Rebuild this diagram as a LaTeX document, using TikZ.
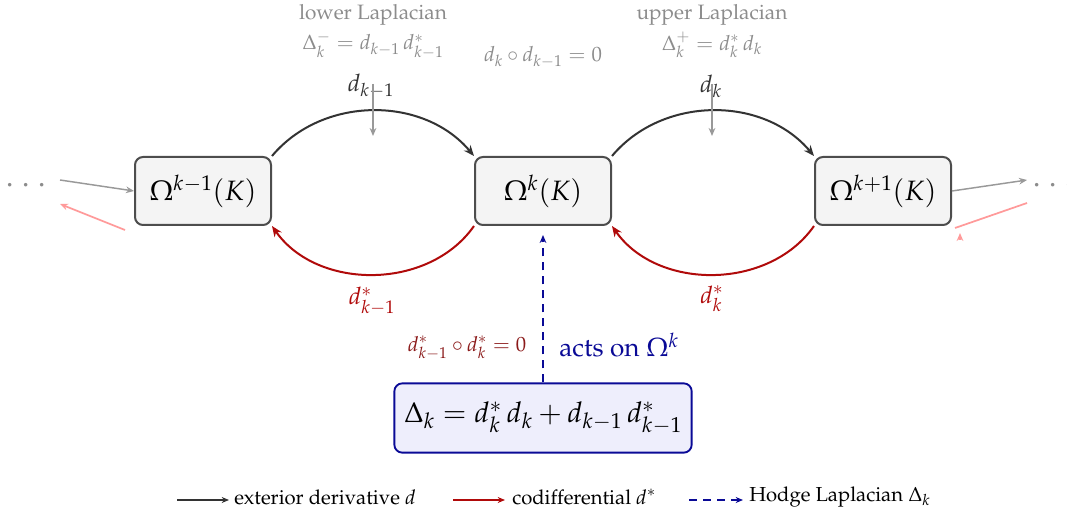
\documentclass[tikz,border=0pt]{standalone}
\usepackage[T1]{fontenc}
\usepackage{mathpazo}
\usetikzlibrary{arrows.meta}
\definecolor{darkline}{HTML}{333333}
\definecolor{codred}{HTML}{B00A0A}
\definecolor{deepred}{HTML}{8B1A1A}
\definecolor{pinkline}{HTML}{FF9A9A}
\definecolor{greyline}{HTML}{999999}
\definecolor{greytext}{HTML}{8C8C8C}
\definecolor{navy}{HTML}{0A0A96}
\definecolor{boxfill}{HTML}{F4F4F4}
\definecolor{boxline}{HTML}{4D4D4D}
\definecolor{lapfill}{HTML}{EEEEFC}
\begin{document}
\begin{tikzpicture}[x=0.75pt,y=-0.75pt,
  obox/.style={draw=boxline,fill=boxfill,line width=1.5pt,rounded corners=6pt,
    minimum width=102pt,minimum height=51pt,inner sep=0pt,font=\fontsize{21}{25}\selectfont},
  lapbox/.style={draw=navy,fill=lapfill,line width=1.4pt,rounded corners=6pt,
    minimum width=223pt,minimum height=52pt,inner sep=0pt,font=\fontsize{21.4}{26}\selectfont},
  glabel/.style={text=greytext,font=\fontsize{15.6}{18}\selectfont,inner sep=1pt},
  dlabel/.style={text=darkline,font=\fontsize{18}{21}\selectfont,inner sep=1pt},
  rlabel/.style={text=codred,font=\fontsize{18}{21}\selectfont,inner sep=1pt},
  darr/.style={draw=darkline,line width=1.5pt,-{Stealth[length=8pt,width=6.5pt]}},
  rarr/.style={draw=codred,line width=1.5pt,-{Stealth[length=8pt,width=6.5pt]}},
  garr/.style={draw=greyline,line width=1.1pt,-{Stealth[length=6pt,width=5pt]}},
  parr/.style={draw=pinkline,line width=1.3pt,-{Stealth[length=6pt,width=5pt]}},
  pline/.style={draw=pinkline,line width=1.3pt},
  barr/.style={draw=navy,line width=1.5pt,dash pattern=on 6pt off 4.5pt,-{Stealth[length=6pt,width=5pt]}},
  dotsty/.style={text=greytext,font=\fontsize{24}{26}\selectfont,inner sep=0pt},
  legtext/.style={anchor=west,inner sep=0pt,font=\fontsize{15.2}{17}\selectfont}
]
\useasboundingbox (0,0) rectangle (1067,513);

% main spaces
\node[obox] (L) at (203,191) {$\Omega^{k-1}(K)$};
\node[obox] (M) at (543,191) {$\Omega^{k}(K)$};
\node[obox] (R) at (883,191) {$\Omega^{k+1}(K)$};

% top gray annotations
\node[glabel] (lowT) at (373,15) {lower Laplacian};
\node[glabel] (lowF) at (373,45) {$\Delta_k^- = d_{k-1}\,d_{k-1}^*$};
\node[glabel] (upT) at (712,15) {upper Laplacian};
\node[glabel] (upF) at (712,45) {$\Delta_k^+ = d_k^*\,d_k$};
\node[glabel] (comp) at (543,57) {$d_k\circ d_{k-1} = 0$};

% exterior derivatives
\draw[darr] (L.north east) to[out=50,in=130] (M.north west);
\draw[darr] (M.north east) to[out=50,in=130] (R.north west);
\node[dlabel] (dkm) at (371,86) {$d_{k-1}$};
\node[dlabel] (dk) at (711,86) {$d_{k}$};
\coordinate (g1a) at (373,84);
\coordinate (g1b) at (373,136);
\coordinate (g2a) at (712,84);
\coordinate (g2b) at (712,136);
\draw[garr] (g1a) -- (g1b);
\draw[garr] (g2a) -- (g2b);

% codifferentials
\draw[rarr] (M.south west) to[out=-125,in=-55] (L.south east);
\draw[rarr] (R.south west) to[out=-125,in=-55] (M.south east);
\node[rlabel] (dskm) at (372,301) {$d^*_{k-1}$};
\node[rlabel] (dsk) at (712,299) {$d^*_{k}$};

% side continuations
\node[dotsty] (ldots) at (26,186) {${\cdot}\hspace{4.5pt}{\cdot}\hspace{4.5pt}{\cdot}$};
\node[dotsty] (rdots) at (1053,186) {${\cdot}\hspace{4.5pt}{\cdot}\hspace{4.5pt}{\cdot}$};
\coordinate (la) at (60,180);
\coordinate (lp1) at (125,230);
\coordinate (lp2) at (60,204);
\coordinate (ra) at (1027,180);
\coordinate (rp1) at (1027,203);
\coordinate (rp2) at (955,228);
\coordinate (rt1) at (960,240);
\coordinate (rt2) at (960,233);
\draw[garr] (la) -- (L.west);
\draw[parr] (lp1) -- (lp2);
\draw[garr] (R.east) -- (ra);
\draw[pline] (rp1) -- (rp2);
\draw[parr] (rt1) -- (rt2);

% Hodge Laplacian
\node[lapbox] (D) at (543,418) {$\Delta_k = d_k^*\,d_k + d_{k-1}\,d_{k-1}^*$};
\coordinate (Mb) at (543,235);
\draw[barr] (D.north) -- (Mb);
\node[text=navy,font=\fontsize{19.6}{23}\selectfont,inner sep=1pt] (acts) at (619,345) {acts on $\Omega^k$};
\node[text=deepred,font=\fontsize{15.5}{18}\selectfont,inner sep=1pt] (rcomp) at (467,348) {$d^*_{k-1}\circ d^*_k = 0$};

% legend
\coordinate (l1a) at (177,500); \coordinate (l1b) at (229,500);
\coordinate (l2a) at (453,500); \coordinate (l2b) at (505,500);
\coordinate (l3a) at (689,500); \coordinate (l3b) at (743,500);
\draw[draw=darkline,line width=1.4pt,-{Stealth[length=5.5pt,width=4.5pt]}] (l1a) -- (l1b);
\draw[draw=codred,line width=1.4pt,-{Stealth[length=5.5pt,width=4.5pt]}] (l2a) -- (l2b);
\draw[draw=navy,line width=1.4pt,dash pattern=on 6pt off 4.5pt,-{Stealth[length=5.5pt,width=4.5pt]}] (l3a) -- (l3b);
\node[legtext] (t1) at (234,497) {exterior derivative $d$};
\node[legtext] (t2) at (512,497) {codifferential $d^*$};
\node[legtext] (t3) at (749,497) {Hodge Laplacian $\Delta_k$};
\end{tikzpicture}
\end{document}
